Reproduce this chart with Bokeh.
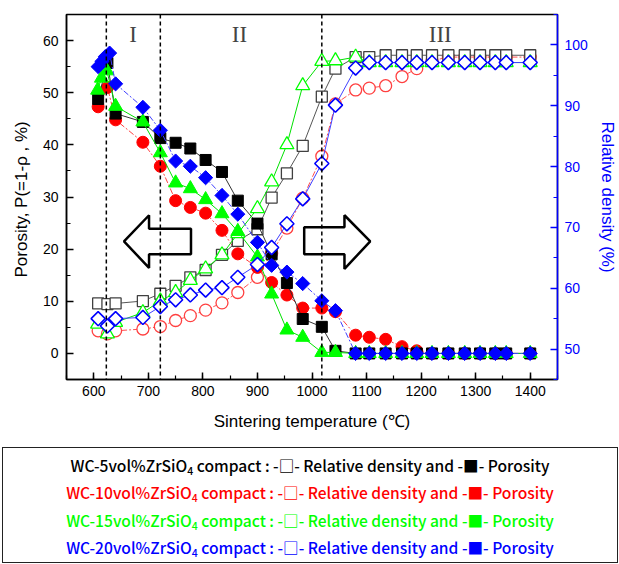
from bokeh.plotting import figure
from bokeh.models import (Range1d, LinearAxis, SingleIntervalTicker, Span, Label,
                          PolyAnnotation, Div)
from bokeh.layouts import column
from bokeh.embed import file_html
from bokeh.resources import INLINE
import math

# ---------------- data ----------------
tail_temps = [1080, 1105, 1135, 1165, 1192, 1220, 1250, 1280, 1308, 1336, 1356, 1400]
mid_temps = [690, 722, 750, 777, 805, 835, 864, 900, 926, 954, 983, 1018, 1043]

# WC-5vol% ZrSiO4 (black)
temp_5_rd = [608, 625, 640] + mid_temps + tail_temps
rd_5 = [57.5, 57.4, 57.5, 57.9, 59.1, 60.4, 61.8, 63.0, 65.5, 67.8, 69.7, 74.9, 78.9, 83.4, 91.5, 96.1,
        98.0, 98.0, 98.3, 98.3, 98.3, 98.3, 98.3, 98.3, 98.3, 98.3, 98.3, 98.3]
temp_5_p = [608, 625, 640] + mid_temps + tail_temps
p_5 = [48.8, 55.7, 46.0, 44.4, 41.3, 40.4, 39.3, 37.1, 34.8, 29.3, 24.9, 19.0, 13.5, 6.6, 5.1, 0.5,
       0, 0, 0, 0, 0, 0, 0, 0, 0, 0, 0, 0]

# WC-10vol% ZrSiO4 (red)
temp_10_rd = [608, 625, 640] + mid_temps + tail_temps
rd_10 = [53.0, 52.5, 53.0, 53.3, 53.7, 54.7, 55.5, 56.4, 57.6, 59.3, 61.8, 65.8, 69.9, 74.8, 81.7, 90.3,
         92.6, 92.9, 93.3, 94.8, 96.1, 97.4, 98.0, 98.0, 98.0, 98.0, 98.0, 98.0]
temp_10_p = [608, 625, 640] + mid_temps + tail_temps
p_10 = [47.3, 51.0, 44.8, 40.5, 35.9, 29.3, 28.0, 26.9, 23.6, 19.1, 16.5, 13.6, 11.2, 8.7, 8.7, 8.0,
        3.5, 3.1, 2.7, 1.3, 0.5, 0, 0, 0, 0, 0, 0, 0]

# WC-15vol% ZrSiO4 (green)
temp_15_rd = [607, 625, 640] + mid_temps + tail_temps
rd_15 = [54.1, 52.5, 54.4, 56.0, 57.9, 59.3, 61.3, 63.2, 65.5, 69.0, 73.1, 77.5, 83.6, 93.3, 97.3, 97.4,
         98.0, 97.1, 97.1, 97.1, 97.1, 97.1, 97.1, 97.1, 97.1, 97.1, 97.1, 97.1]
temp_15_p = [607, 614, 624, 640] + mid_temps + tail_temps
p_15 = [50.5, 52.8, 54.2, 47.4, 44.4, 38.5, 32.7, 31.6, 29.5, 26.8, 23.4, 18.5, 11.4, 4.5, 3.1, 0.2, 0.2,
        0, 0, 0, 0, 0, 0, 0, 0, 0, 0, 0, 0]

# WC-20vol% ZrSiO4 (blue)
temp_20_rd = [608, 625, 640] + mid_temps + tail_temps
rd_20 = [55.0, 53.8, 55.0, 55.2, 57.0, 58.1, 58.9, 59.7, 60.1, 61.8, 63.9, 66.7, 70.6, 74.7, 80.5, 90.1,
         96.2, 97.1, 97.1, 97.1, 97.1, 97.1, 97.1, 97.1, 97.1, 97.1, 97.1, 97.1]
temp_20_p = [608, 615, 621, 629, 640] + mid_temps + tail_temps
p_20 = [55.0, 56.0, 56.9, 57.6, 51.7, 47.2, 42.8, 36.9, 35.9, 33.7, 30.3, 26.7, 21.3, 16.9, 15.6, 13.4,
        10.1, 8.2, 0, 0, 0, 0, 0, 0, 0, 0, 0, 0, 0, 0]

stage_boundaries = [623, 722, 1018]
stage_labels = ["I", "II", "III"]
stage_label_temps = [672, 867, 1235]
stage_label_y = 61.2

vol_pcts = ["5", "10", "15", "20"]
legend_colors = ["#000000", "#FF0000", "#00FF00", "#0000FF"]

# ---------------- figure ----------------
FONT = "Liberation Sans"
p = figure(width=619, height=440, x_range=Range1d(550, 1450), y_range=Range1d(-5, 65),
           output_backend="svg", toolbar_location=None,
           min_border_left=66, min_border_right=57, min_border_top=14, min_border_bottom=61)
p.extra_y_ranges = {"rd": Range1d(45, 105)}
p.xgrid.grid_line_color = None
p.ygrid.grid_line_color = None
p.outline_line_color = "black"
p.outline_line_width = 1.5
p.background_fill_color = "white"
p.border_fill_color = "white"

def style_axis(ax, color):
    ax.axis_line_color = color
    ax.axis_line_width = 1.5
    ax.major_tick_line_color = color
    ax.minor_tick_line_color = color
    ax.major_tick_line_width = 1.5
    ax.minor_tick_line_width = 1.2
    ax.major_tick_in = 7
    ax.major_tick_out = 0
    ax.minor_tick_in = 4
    ax.minor_tick_out = 0
    ax.major_label_text_color = color
    ax.major_label_text_font = FONT
    ax.major_label_text_font_size = "14px"
    ax.axis_label_text_color = color
    ax.axis_label_text_font = FONT
    ax.axis_label_text_font_size = "17px"
    ax.axis_label_text_font_style = "normal"

p.xaxis.ticker = SingleIntervalTicker(interval=100, num_minor_ticks=2)
p.yaxis.ticker = SingleIntervalTicker(interval=10, num_minor_ticks=2)
style_axis(p.xaxis[0], "black")
style_axis(p.yaxis[0], "black")
p.xaxis.axis_label = "Sintering temperature (\u2103)"
p.yaxis.axis_label = "Porosity, P(=1-\u03c1  , %)"
p.xaxis.major_label_standoff = 6
p.xaxis.axis_label_standoff = 13
p.yaxis.major_label_standoff = 8
p.yaxis.axis_label_standoff = 9

rax = LinearAxis(y_range_name="rd", ticker=SingleIntervalTicker(interval=10, num_minor_ticks=2),
                 axis_label="Relative density (%)")
style_axis(rax, "#0000FF")
rax.major_label_standoff = 7
rax.axis_label_standoff = 7
p.add_layout(rax, "right")

# stage boundaries
for t in stage_boundaries:
    p.add_layout(Span(location=t, dimension="height", line_color="black",
                      line_width=1.5, line_dash="4 3"))
for lab, t in zip(stage_labels, stage_label_temps):
    p.add_layout(Label(x=t, y=stage_label_y, text=lab, text_font="Liberation Serif",
                       text_font_size="23px", text_align="center", text_baseline="middle"))

# hollow arrows (annotation shapes, in data units)
p.add_layout(PolyAnnotation(xs=[655.4, 701.3, 701.3, 778.2, 778.2, 701.3, 701.3],
                            ys=[21.5, 26.5, 23.9, 23.9, 19.0, 19.0, 16.4],
                            fill_alpha=0, line_color="black", line_alpha=1.0, line_width=2.5))
p.add_layout(PolyAnnotation(xs=[985.7, 1059.5, 1059.5, 1106.7, 1059.5, 1059.5, 985.7],
                            ys=[24.2, 24.2, 26.5, 21.5, 16.2, 19.0, 19.0],
                            fill_alpha=0, line_color="black", line_alpha=1.0, line_width=2.5))

def series(t, v, color, line_color, marker, size, filled, dash, rng, angle=0.0, lw=1.3):
    p.line(t, v, line_color=line_color, line_width=1, line_dash=dash, y_range_name=rng)
    p.scatter(t, v, marker=marker, size=size, angle=angle,
              fill_color=(color if filled else "white"), line_color=color,
              line_width=(1 if filled else lw), y_range_name=rng)

rot = math.pi / 4
# red
series(temp_10_rd, rd_10, "#FF4040", "#FF5050", "circle", 12, False, "6 2 2 2", "rd")
series(temp_10_p, p_10, "#FF0000", "#FF4040", "circle", 12, True, "6 2 2 2", "default")
# black
series(temp_5_rd, rd_5, "#404040", "#555555", "square", 11, False, "solid", "rd")
series(temp_5_p, p_5, "#000000", "#333333", "square", 11, True, "solid", "default")
# green
series(temp_15_rd, rd_15, "#00FF00", "#00E000", "triangle", 14, False, "solid", "rd")
series(temp_15_p, p_15, "#00FF00", "#00E000", "triangle", 14, True, "solid", "default")
# blue
series(temp_20_rd, rd_20, "#0000FF", "#4040FF", "square", 10, False, "solid", "rd", angle=rot, lw=1.6)
series(temp_20_p, p_20, "#0000FF", "#4040FF", "square", 10, True, "6 2 2 2", "default", angle=rot)

# ---------------- legend box ----------------
rows = "".join(
    f'<div style="color:{c};height:27.4px;line-height:27.4px;white-space:nowrap;">'
    f'WC-{v}vol%ZrSiO<sub style="font-size:10.5px;line-height:0;vertical-align:-3px;">4</sub>'
    f' compact : -\u25a1- Relative density and -\u25a0- Porosity</div>'
    for v, c in zip(vol_pcts, legend_colors))
legend_html = ('<div style="width:616px;height:116px;box-sizing:border-box;border:1.5px solid #222;'
               "padding-top:4px;font-family:'Noto Sans CJK KR','Noto Sans',sans-serif;"
               'font-size:15.6px;font-weight:500;text-align:center;background:white;">' + rows + '</div>')
legend = Div(text=legend_html, width=616, height=116, margin=(7, 0, 0, 2))

layout = column(p, legend, spacing=0)
open("out.html", "w").write(file_html(layout, INLINE))
